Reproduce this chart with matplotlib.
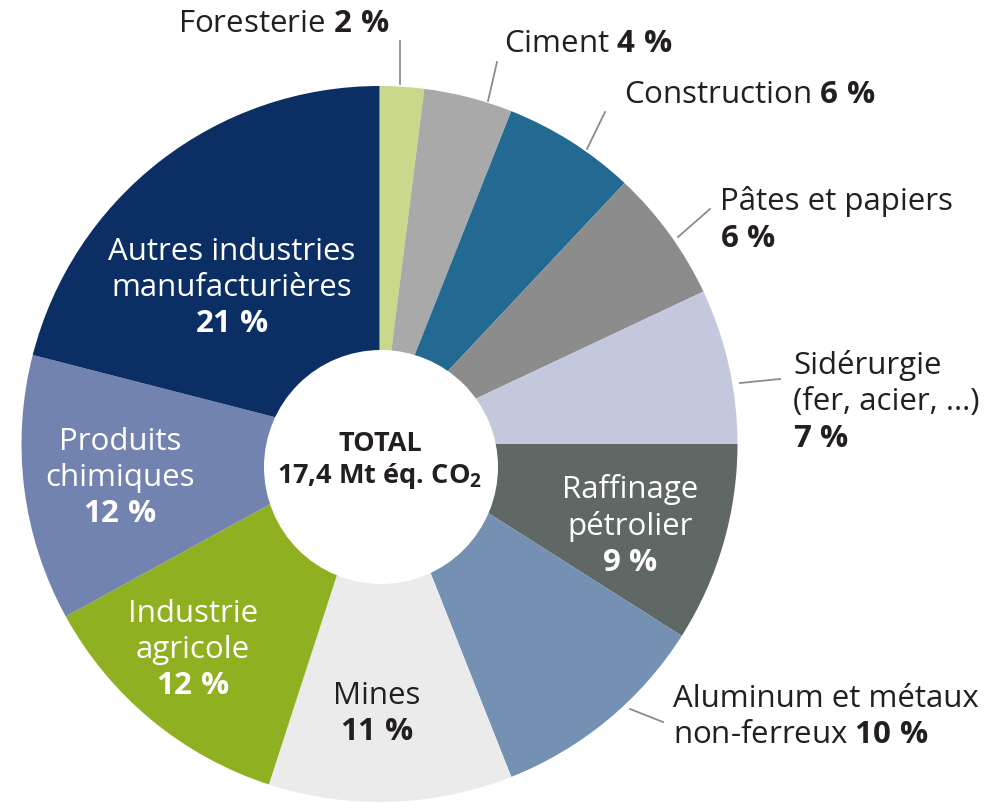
import matplotlib
matplotlib.use("Agg")
import matplotlib.pyplot as plt
from matplotlib.patches import Circle

plt.rcParams['font.family'] = ['Open Sans', 'DejaVu Sans']
plt.rcParams['mathtext.fontset'] = 'custom'
plt.rcParams['mathtext.rm'] = 'Open Sans'
plt.rcParams['mathtext.bf'] = 'Open Sans:bold'
plt.rcParams['mathtext.it'] = 'Open Sans:italic'

# data (clockwise from 12 o'clock)
sectors = ["Foresterie", "Ciment", "Construction", "Pâtes et papiers",
           "Sidérurgie\n(fer, acier, ...)", "Raffinage\npétrolier",
           "Aluminum et métaux\nnon-ferreux", "Mines", "Industrie\nagricole",
           "Produits\nchimiques", "Autres industries\nmanufacturières"]
shares = [2, 4, 6, 6, 7, 9, 10, 11, 12, 12, 21]
colors = ["#c8d98c", "#a9a9a9", "#236a93", "#8c8c8c", "#c3c8dc", "#5f6864",
          "#7490b3", "#ebebeb", "#8fb021", "#7383b0", "#0b2e64"]
total_text = "TOTAL\n17,4 Mt éq. CO$_\\mathbf{2}$"

W, H = 992, 804
dark = "#231f20"


def py(y):
    return H - y


def main():
    fig = plt.figure(figsize=(W / 100, H / 100), dpi=100)
    ax = fig.add_axes([0, 0, 1, 1])

    ax.pie(shares, colors=colors, startangle=90, counterclock=False,
           center=(379.5, py(445)), radius=358,
           wedgeprops=dict(linewidth=0))
    ax.add_patch(Circle((381, py(468)), 117, facecolor="white",
                        edgecolor="none", zorder=3))
    ax.set_xlim(0, W)
    ax.set_ylim(0, H)
    ax.set_aspect("equal")
    ax.axis("off")

    # label layout: x, y, ha, colour, pct on same line?
    layout = [
        (284, 24, "center", dark, True),
        (588, 44, "center", dark, True),
        (750, 95, "center", dark, True),
        (720, 220, "left", dark, False),
        (793, 402, "left", dark, False),
        (630, 526, "center", "white", False),
        (673, 717, "left", dark, True),
        (377, 714, "center", dark, False),
        (193, 650, "center", "white", False),
        (120, 478, "center", "white", False),
        (232, 288, "center", "white", False),
    ]
    for name, pct, (x, y, ha, col, inline) in zip(sectors, shares, layout):
        sep = " " if inline else "\n"
        txt = name + sep + r"$\mathbf{%d\ \%%}$" % pct
        ax.text(x, py(y), txt, ha=ha, va="center", multialignment=ha,
                color=col, fontsize=22.5, linespacing=1.27, zorder=5)

    ax.text(380, py(461), total_text, ha="center", va="center",
            fontsize=19.5, fontweight="bold", color=dark, linespacing=1.15,
            zorder=5)

    # leader lines
    leaders = [((400, 42), (400, 85)), ((497, 63), (488, 102)),
               ((605, 113), (587, 150)), ((710, 210), (678, 238)),
               ((740, 384), (780, 380)), ((630, 710), (663, 723))]
    for (x0, y0), (x1, y1) in leaders:
        ax.plot([x0, x1], [py(y0), py(y1)], color="#8c8c8c", lw=1.3,
                zorder=4)

    fig.savefig("out.png", dpi=100)


if __name__ == "__main__":
    main()
